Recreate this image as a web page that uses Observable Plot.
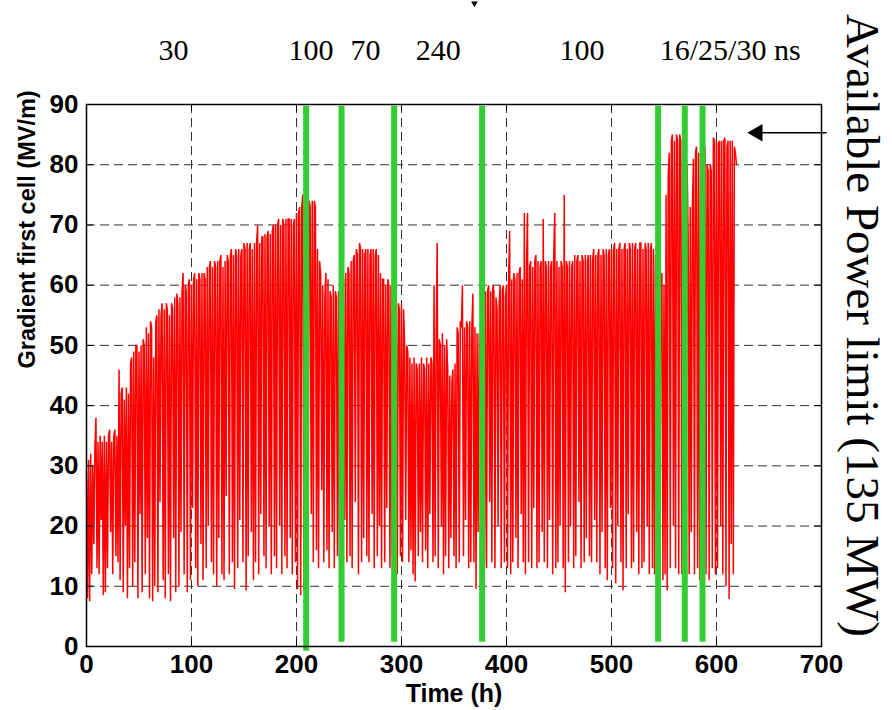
<!DOCTYPE html>
<html>
<head>
<meta charset="utf-8">
<script src="https://cdn.jsdelivr.net/npm/d3@7"></script>
<script src="https://cdn.jsdelivr.net/npm/@observablehq/plot@0.6"></script>
<style>
  html, body { margin: 0; padding: 0; background: #fff; }
  #chart { width: 892px; height: 710px; }
</style>
</head>
<body>
<div id="chart"></div>
<script>
// ---- data ----
const startHour = 0;      // first sample (h)
const sampleStep = 1;     // hours between samples
const gradient = [
  29, 8, 31, 7.5, 32, 12, 30, 17, 33, 38, 13, 34, 12, 35, 21, 34, 8.5, 35, 9, 34,
  13, 35, 36, 19, 34, 12, 35, 36, 15, 35, 14, 46, 11, 42, 43, 9, 41, 20, 43, 8,
  42, 13, 47, 48, 10, 49, 14, 50, 50, 8, 49, 22, 50, 9, 51, 50, 12, 53, 18, 52,
  8, 54, 53, 7.5, 48, 10, 54, 55, 9, 56, 24, 55, 57, 11, 56, 8, 57, 56, 12, 55,
  7.5, 57, 56, 18, 58, 9, 58.6, 57, 10, 58, 19, 59, 62, 12, 60, 59, 9, 60, 61, 11,
  60, 23, 61, 62, 13, 61, 10, 62, 61, 17, 62, 11, 62, 61, 13, 63, 20, 63, 64, 14,
  63, 12, 64, 63, 10, 64, 18, 64, 65, 12, 63, 11, 64, 25, 65, 64, 12, 65, 66, 14,
  65, 9.5, 66, 65, 13, 66, 21, 65, 66, 14, 67, 66, 9.3, 67, 15, 66, 67, 19, 66, 11,
  67, 14, 67, 70, 12, 67, 22, 68, 68, 15, 68.5, 13, 68, 69, 20, 68.5, 12, 69, 70, 15,
  70, 13, 70, 71, 20, 70, 12, 71, 70, 15, 71, 13, 71, 71, 18, 71, 12, 70, 71, 14,
  72, 9.5, 72, 73, 8.5, 73, 75, 9, 72, 14, 74, 13, 74, 73, 22, 74, 14, 74, 73, 16,
  66, 13, 64, 62, 26, 60, 14, 58, 62, 16, 61, 13, 59, 58, 19, 60, 13, 59, 58, 15,
  59, 14, 60, 13, 60, 61, 21, 62, 14, 63, 62, 15, 64, 13, 64, 65, 24, 66, 65, 12,
  67, 66, 14, 66, 18, 65, 66, 15, 66, 14, 65, 66, 22, 66, 13, 65, 66, 15, 65, 20,
  62, 13, 61, 61, 14, 60, 23, 61, 60, 13, 60, 15, 59, 14, 57, 57, 12, 57, 56, 15,
  57, 14, 56, 50, 21, 50, 49, 14, 48, 16, 47, 12, 48, 10.8, 47, 46, 15, 47, 19, 48,
  14, 47, 46, 16, 48, 13, 47, 22, 48, 47, 14, 60, 15, 51, 67, 13, 51, 50, 20, 52,
  12, 50, 15, 51, 46, 13, 45, 18, 44, 46, 15, 47, 13, 53, 52, 14, 54, 53, 60, 15,
  53, 21, 54, 53, 13, 54, 14, 53, 58.6, 14, 53, 9.6, 52, 19, 52, 51, 13, 55, 58, 14,
  59, 13, 59, 60, 24, 59, 14, 60, 59, 13, 58, 56, 20, 57, 60, 13, 59, 60, 14, 58,
  60, 13, 61, 69, 12, 61, 14, 62, 61, 18, 62, 13, 62, 63, 22, 61, 14, 72, 12, 63,
  72, 14, 63, 64, 13, 63, 23, 64, 65, 13, 64, 14, 63, 64, 19, 71, 14, 64, 63, 13,
  64, 21, 63, 64, 12, 65, 72, 13, 64, 14, 63, 20, 64, 63, 13, 75, 9, 64, 63, 14,
  64, 20, 63, 64, 13, 65, 15, 64, 65, 24, 64, 13, 65, 64, 14, 65, 18, 64, 65, 15,
  65, 14, 64, 66, 21, 65, 14, 65, 66, 12, 65, 19, 66, 65, 13, 66, 11, 65, 66, 23,
  66, 13, 66, 67, 10.5, 66, 20, 66, 67, 14, 66, 9.3, 66, 67, 13, 66, 22, 67, 66, 13,
  67, 14, 66, 67, 19, 66, 12, 67, 67, 13, 66, 14, 67, 66, 20, 67, 12, 66, 67, 13,
  66, 12, 65, 63, 21, 64, 13, 60, 62, 11, 60, 12, 75, 9.3, 78, 82, 13, 84, 85, 20,
  84, 13, 85, 84, 12, 85, 84, 12, 84, 11, 80, 13, 80, 68, 12, 73, 19, 72, 81, 12,
  82, 83, 13, 82, 11, 83, 80, 22, 82, 83, 12, 80, 79, 11, 80, 79, 13, 84.5, 84, 12,
  84, 13, 83.5, 84, 20, 84, 12, 84, 84.5, 10, 83, 84, 7.9, 84, 17, 84, 12, 83, 82, 80
];

// green markers (pulse-length changes)
const markerHours   = [209.2, 242.9, 293.0, 376.8, 544.4, 569.8, 586.7];
const markerBottoms = [-0.8, 0.7, 0.7, 0.7, 0.7, 0.7, 0.7];
const markerTop = 89.7;

// pulse length labels above the plot
const pulseLabels = ["30", "100", "70", "240", "100", "16/25/30 ns"];
const pulseLabelHours = [82.9, 213.8, 265.7, 335, 472, 613];
const pulseLabelLevel = 99.0;

// axis ticks
const xTicks = [0, 100, 200, 300, 400, 500, 600, 700];
const yTicks = [0, 10, 20, 30, 40, 50, 60, 70, 80, 90];

// annotation
const limitText = "Available Power limit (135 MW)";
const arrowLevel = 85.3;
const arrowTailHour = 705.4;
const arrowTipHour = 639;
const topMarkHour = 369.5;
const topMarkLevel = 106.8;

// ---- build ----
const series = gradient.map((g, i) => ({t: startHour + i * sampleStep, g}));
const markers = markerHours.map((h, i) => ({h, y1: markerBottoms[i], y2: markerTop}));
const labels = pulseLabels.map((s, i) => ({s, h: pulseLabelHours[i]}));

const W = 892, H = 710, mL = 86, mR = 71, mT = 104, mB = 64;
const pxPerHour = (W - mL - mR) / 700;
const pxPerUnit = (H - mT - mB) / 90;
const tickPx = 7;

const sans = "'Liberation Sans', Arial, Helvetica, sans-serif";
const serif = "'Liberation Serif', 'Times New Roman', serif";

const chart = Plot.plot({
  width: W, height: H,
  marginLeft: mL, marginRight: mR, marginTop: mT, marginBottom: mB,
  style: {fontFamily: sans, fontSize: "26px", fontWeight: "bold", color: "black", background: "white", overflow: "visible"},
  x: {domain: [0, 700], ticks: xTicks, tickSize: 0, tickPadding: 8, label: null, tickFormat: d => String(d)},
  y: {domain: [0, 90], ticks: yTicks, tickSize: 0, tickPadding: 8, label: null, tickFormat: d => String(d)},
  marks: [
    Plot.ruleX(xTicks.slice(1, -1), {stroke: "#333", strokeWidth: 1, strokeDasharray: "9,5"}),
    Plot.ruleY(yTicks.slice(1, -1), {stroke: "#333", strokeWidth: 1, strokeDasharray: "9,5"}),
    Plot.line(series, {x: "t", y: "g", stroke: "#ff0000", strokeWidth: 1.5, strokeLinejoin: "miter", strokeMiterlimit: 2}),
    Plot.ruleX(markers, {x: "h", y1: "y1", y2: "y2", stroke: "#33cc33", strokeWidth: 6}),
    // inside ticks
    Plot.ruleX(xTicks, {x: d => d, y1: 0, y2: tickPx / pxPerUnit, stroke: "black", strokeWidth: 1}),
    Plot.ruleX(xTicks, {x: d => d, y1: 90 - tickPx / pxPerUnit, y2: 90, stroke: "black", strokeWidth: 1}),
    Plot.ruleY(yTicks, {y: d => d, x1: 0, x2: tickPx / pxPerHour, stroke: "black", strokeWidth: 1}),
    Plot.ruleY(yTicks, {y: d => d, x1: 700 - tickPx / pxPerHour, x2: 700, stroke: "black", strokeWidth: 1}),
    Plot.frame({stroke: "black", strokeWidth: 1.5}),
    // pulse length labels
    Plot.text(labels, {x: "h", y: () => pulseLabelLevel, text: "s", fontFamily: serif, fontSize: 30, fontWeight: "normal", fill: "black"}),
    // axis titles
    Plot.text(["Time (h)"], {frameAnchor: "bottom", dy: 55, fontSize: 25, fontWeight: "bold", fontFamily: sans, fill: "black"}),
    Plot.text(["Gradient first cell (MV/m)"], {frameAnchor: "left", dx: -59, dy: -7, rotate: -90, fontSize: 23.5, fontWeight: "bold", fontFamily: sans, fill: "black"}),
    // power limit annotation
    Plot.text([limitText], {frameAnchor: "right", dx: 41, dy: -50, rotate: 90, textAnchor: "middle", lineAnchor: "middle", fontSize: 47, fontWeight: "normal", fontFamily: serif, fill: "black"}),
    Plot.ruleY([arrowLevel], {x1: arrowTipHour, x2: arrowTailHour, stroke: "black", strokeWidth: 1.5}),
    Plot.dot([arrowLevel], {x: () => arrowTipHour, y: d => d, symbol: "triangle", r: 6.5, rotate: -90, fill: "black", stroke: "none"}),
    Plot.dot([topMarkLevel], {x: () => topMarkHour, y: d => d, symbol: "triangle", r: 2.5, rotate: 180, fill: "black", stroke: "none"})
  ]
});
document.getElementById("chart").appendChild(chart);
</script>
</body>
</html>
